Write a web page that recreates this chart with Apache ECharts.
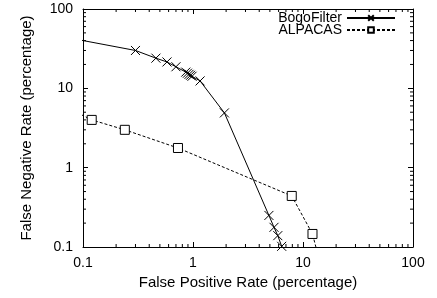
<!DOCTYPE html>
<html>
<head>
<meta charset="utf-8">
<script src="https://cdn.jsdelivr.net/npm/echarts@6/dist/echarts.min.js"></script>
<style>
  html, body { margin: 0; padding: 0; background: #fff; }
  #chart { width: 437px; height: 298px; }
</style>
</head>
<body>
<div id="chart"></div>
<script>
// data (points outside 0.1..100 are clipped by the grid)
var bogoFP = [0.05, 0.30, 0.46, 0.58, 0.70, 0.86, 0.89, 0.92, 0.95, 0.98, 1.16, 1.93, 4.9, 5.45, 5.9, 6.4, 7.0];
var bogoFN = [48, 30, 24, 21.5, 18.7, 16, 15.5, 15, 14.6, 14.2, 12.4, 4.9, 0.25, 0.177, 0.139, 0.102, 0.07];
var alpacasFP = [0.08, 0.12, 0.24, 0.73, 7.9, 12.2, 14];
var alpacasFN = [5.3, 4.0, 3.0, 1.77, 0.44, 0.146, 0.07];
var minorTicks = [0.2, 0.3, 0.4, 0.5, 0.6, 0.7, 0.8, 0.9, 2, 3, 4, 5, 6, 7, 8, 9, 20, 30, 40, 50, 60, 70, 80, 90];

var FONT = 'Liberation Sans';

function pairs(xs, ys) {
  return xs.map(function (x, i) { return [x, ys[i]]; });
}

var chart = echarts.init(document.getElementById('chart'));

function logAxis(pos, name, show) {
  return {
    type: 'log',
    logBase: 10,
    min: 0.1,
    max: 100,
    position: pos,
    name: show ? name : '',
    nameLocation: 'middle',
    nameTextStyle: { fontFamily: FONT, fontSize: 15, color: '#000' },
    axisLine: { show: true, lineStyle: { color: '#000', width: 1 } },
    axisTick: { show: true, inside: true, length: 5, lineStyle: { color: '#000' } },
    axisLabel: { show: show, fontFamily: FONT, fontSize: 14, color: '#000' },
    splitLine: { show: false },
    minorTick: { show: false }
  };
}

var xBottom = logAxis('bottom', 'False Positive Rate (percentage)', true);
xBottom.nameGap = 28;
xBottom.axisLabel.margin = 9;
var xTop = logAxis('top', '', false);
var yLeft = logAxis('left', 'False Negative Rate (percentage)', true);
yLeft.nameGap = 49;
yLeft.axisLabel.margin = 10;
var yRight = logAxis('right', '', false);

var crossSymbol = 'path://M0,0L10,10M10,0L0,10';

var option = {
  animation: false,
  backgroundColor: '#fff',
  grid: { left: 83, right: 24, top: 9, bottom: 51 },
  xAxis: [xBottom, xTop],
  yAxis: [yLeft, yRight],
  legend: {
    orient: 'vertical',
    right: 41,
    top: 11,
    padding: 0,
    align: 'right',
    itemWidth: 48,
    itemHeight: 7,
    itemGap: -2,
    textStyle: { fontFamily: FONT, fontSize: 14, color: '#000' },
    data: ['BogoFilter', 'ALPACAS']
  },
  series: [
    {
      name: 'BogoFilter',
      type: 'line',
      data: pairs(bogoFP, bogoFN),
      symbol: crossSymbol,
      symbolSize: 9,
      showAllSymbol: true,
      clip: true,
      lineStyle: { color: '#000', width: 1 },
      itemStyle: { color: '#000', borderColor: '#000', borderWidth: 1 }
    },
    {
      name: 'ALPACAS',
      type: 'line',
      data: pairs(alpacasFP, alpacasFN),
      symbol: 'rect',
      symbolSize: 9,
      showAllSymbol: true,
      clip: true,
      lineStyle: { color: '#000', width: 1, type: [3, 2] },
      itemStyle: { color: '#fff', borderColor: '#000', borderWidth: 1 }
    },
    {
      // minor ticks of the x axes (bottom and top)
      type: 'custom',
      silent: true,
      data: minorTicks.map(function (v) { return [v, 1]; }),
      renderItem: function (params, api) {
        var cs = params.coordSys;
        var x = api.coord([api.value(0), 1])[0];
        var style = { stroke: '#000', lineWidth: 1 };
        return {
          type: 'group',
          children: [
            { type: 'line', shape: { x1: x, y1: cs.y + cs.height, x2: x, y2: cs.y + cs.height - 3 }, style: style },
            { type: 'line', shape: { x1: x, y1: cs.y, x2: x, y2: cs.y + 3 }, style: style }
          ]
        };
      }
    },
    {
      // minor ticks of the y axes (left and right)
      type: 'custom',
      silent: true,
      data: minorTicks.map(function (v) { return [1, v]; }),
      renderItem: function (params, api) {
        var cs = params.coordSys;
        var y = api.coord([1, api.value(1)])[1];
        var style = { stroke: '#000', lineWidth: 1 };
        return {
          type: 'group',
          children: [
            { type: 'line', shape: { x1: cs.x, y1: y, x2: cs.x + 3, y2: y }, style: style },
            { type: 'line', shape: { x1: cs.x + cs.width, y1: y, x2: cs.x + cs.width - 3, y2: y }, style: style }
          ]
        };
      }
    }
  ]
};

chart.setOption(option);
</script>
</body>
</html>
